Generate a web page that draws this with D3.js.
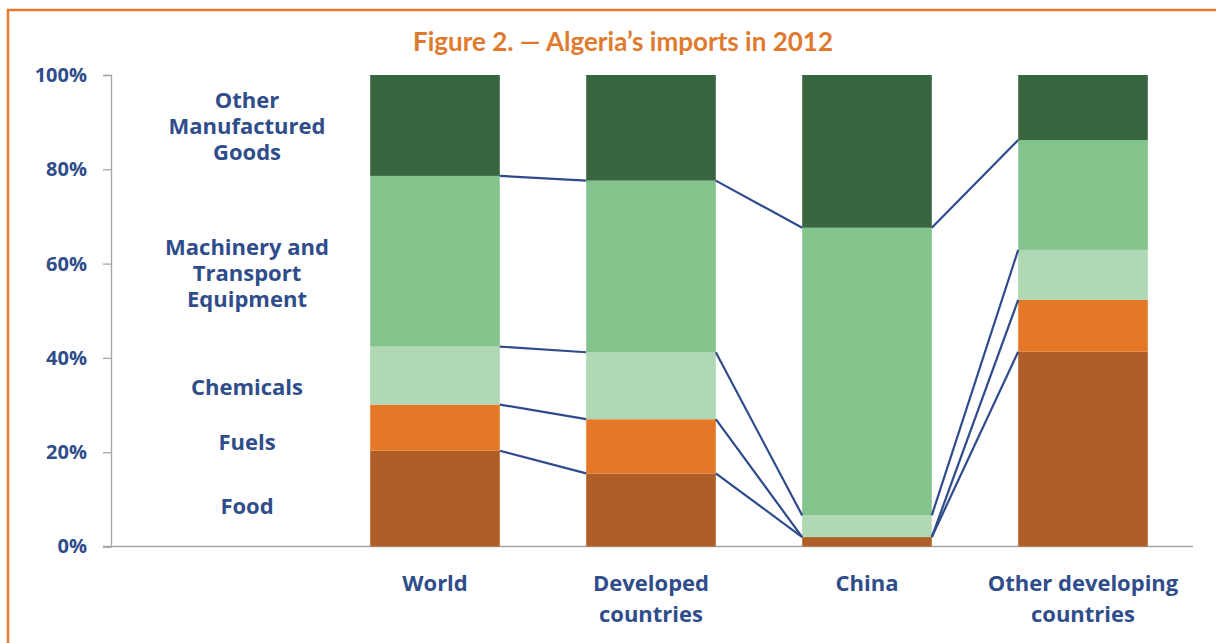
<!DOCTYPE html>
<html>
<head>
<meta charset="utf-8">
<script src="https://cdn.jsdelivr.net/npm/d3@7"></script>
<style>
  body { margin: 0; background: #fff; }
  text { font-family: "Open Sans", Lato, sans-serif; font-weight: 700; }
</style>
</head>
<body>
<script>
var categories = ['World', 'Developed countries', 'China', 'Other developing countries'];
var categoryLines = [['World'], ['Developed', 'countries'], ['China'], ['Other developing', 'countries']];
var series = ['Food', 'Fuels', 'Chemicals', 'Machinery and Transport Equipment', 'Other Manufactured Goods'];
var seriesLines = [['Food'], ['Fuels'], ['Chemicals'], ['Machinery and', 'Transport', 'Equipment'], ['Other', 'Manufactured', 'Goods']];
// shares in percent, per category, in series order
var food = [20.3, 15.5, 2.0, 41.3];
var fuels = [9.8, 11.5, 0.0, 11.0];
var chemicals = [12.3, 14.2, 4.6, 10.6];
var machinery = [36.2, 36.4, 61.0, 23.3];
var otherGoods = [21.4, 22.4, 32.4, 13.8];
var yTicks = [0, 20, 40, 60, 80, 100];
// where the series names sit on the left, in percent
var labelAt = [8.6, 22.2, 33.8, 58.0, 89.2];

var colors = ['#b05e27', '#e57826', '#b0d8b4', '#83c48d', '#376640'];
var ink = '#2f4d8a';

var width = 1216, height = 643;

var svg = d3.select('body').append('svg')
  .attr('width', width)
  .attr('height', height);

// orange frame
svg.append('rect')
  .attr('x', 8).attr('y', 10)
  .attr('width', width + 20).attr('height', height + 20)
  .style('fill', 'none')
  .style('stroke', '#e8792f')
  .style('stroke-width', 2.5);

svg.append('text')
  .attr('x', 623).attr('y', 51)
  .attr('text-anchor', 'middle')
  .style('fill', '#e07a2e')
  .style('font-family', 'Lato, sans-serif')
  .style('font-size', '26px')
  .text('Figure 2. \u2014 Algeria\u2019s imports in 2012');

var x = d3.scaleBand()
  .domain([''].concat(categories))
  .range([111, 1191])
  .paddingInner(0.4)
  .paddingOuter(0.2);

var y = d3.scaleLinear().domain([0, 100]).range([546.5, 75]);

var table = [food, fuels, chemicals, machinery, otherGoods];
var rows = categories.map(function(c, i){
  var row = {category: c};
  series.forEach(function(s, j){ row[s] = table[j][i]; });
  return row;
});
var stacked = d3.stack().keys(series)(rows);

// y axis
var yAxis = svg.append('g')
  .attr('transform', 'translate(111,0)')
  .call(d3.axisLeft(y).tickValues(yTicks).tickSize(8).tickPadding(16)
    .tickFormat(function(d){ return d + '%'; }));
yAxis.select('.domain').style('stroke', '#a6a6a6').style('stroke-width', 1.3);
yAxis.selectAll('.tick line').style('stroke', '#a6a6a6').style('stroke-width', 1.3);
yAxis.selectAll('.tick text')
  .style('fill', ink)
  .style('font-size', '20px')
  .style('font-family', '"Open Sans", sans-serif');

// bottom axis line
svg.append('line')
  .attr('x1', 103).attr('x2', 1193)
  .attr('y1', y(0)).attr('y2', y(0))
  .style('stroke', '#a6a6a6')
  .style('stroke-width', 1.5);

// bars
svg.selectAll('g.layer').data(stacked)
  .enter().append('g')
    .attr('class', 'layer')
    .attr('fill', function(d, i){ return colors[i]; })
  .selectAll('rect').data(function(d){ return d; })
  .enter().append('rect')
    .attr('x', function(d){ return x(d.data.category); })
    .attr('y', function(d){ return y(d[1]); })
    .attr('width', x.bandwidth())
    .attr('height', function(d){ return y(d[0]) - y(d[1]); });

// connector lines between bars at each segment top (except the last)
var links = [];
stacked.slice(0, series.length - 1).forEach(function(layer){
  for (var i = 0; i < layer.length - 1; i++) {
    links.push({
      x1: x(categories[i]) + x.bandwidth(), y1: y(layer[i][1]),
      x2: x(categories[i + 1]), y2: y(layer[i + 1][1])
    });
  }
});
svg.selectAll('line.link').data(links)
  .enter().append('line')
    .attr('class', 'link')
    .attr('x1', function(d){ return d.x1; })
    .attr('y1', function(d){ return d.y1; })
    .attr('x2', function(d){ return d.x2; })
    .attr('y2', function(d){ return d.y2; })
    .style('stroke', '#2f4b8c')
    .style('stroke-width', 2.2);

// category labels
svg.selectAll('text.cat').data(categoryLines)
  .enter().append('text')
    .attr('class', 'cat')
    .attr('text-anchor', 'middle')
    .style('fill', ink)
    .style('font-size', '22px')
    .each(function(lines, i){
      var cx = x(categories[i]) + x.bandwidth() / 2;
      d3.select(this).selectAll('tspan').data(lines)
        .enter().append('tspan')
          .attr('x', cx)
          .attr('y', function(d, k){ return 591 + k * 31; })
          .text(function(d){ return d; });
    });

// series names on the left
svg.selectAll('text.ser').data(seriesLines)
  .enter().append('text')
    .attr('class', 'ser')
    .attr('text-anchor', 'middle')
    .style('fill', ink)
    .style('font-size', '22px')
    .each(function(lines, i){
      var top = y(labelAt[i]) - (lines.length - 1) * 26 / 2;
      d3.select(this).selectAll('tspan').data(lines)
        .enter().append('tspan')
          .attr('x', 247)
          .attr('y', function(d, k){ return top + k * 26 + 8; })
          .text(function(d){ return d; });
    });
</script>
</body>
</html>
